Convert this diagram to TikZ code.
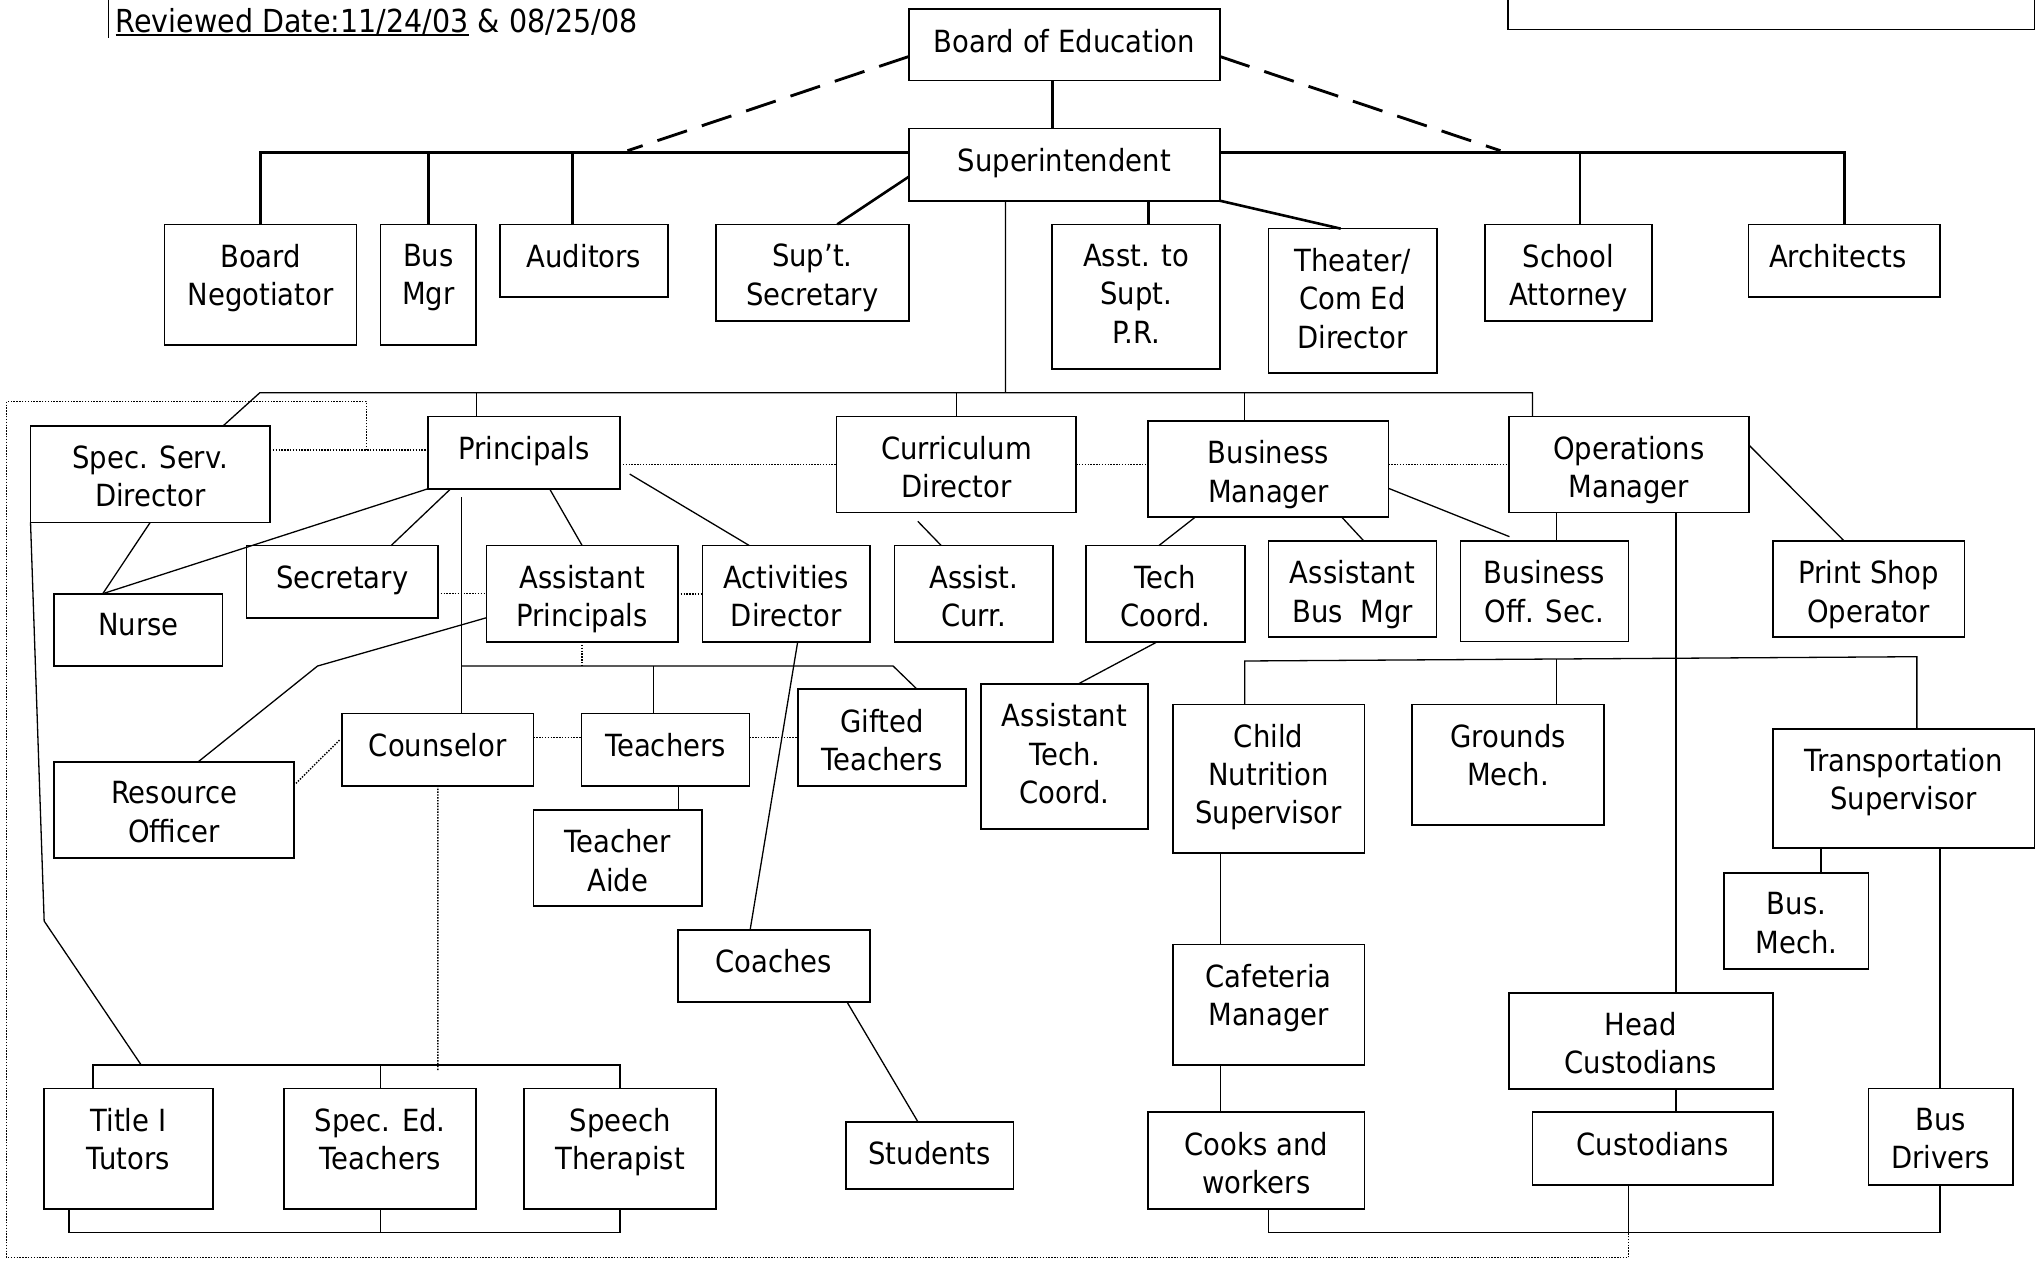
\documentclass[tikz,border=0pt]{standalone}
\usepackage{fontspec}
\setmainfont{DejaVu Sans}[FakeStretch=0.9]
\usetikzlibrary{positioning}

\begin{document}
\begin{tikzpicture}[x=1pt,y=-1pt,
    font=\fontsize{23.5}{29.5}\selectfont,
    box/.style={draw,line width=1.3pt,inner sep=0pt,outer sep=0pt,anchor=north west},
    txt/.style={inner sep=0pt,align=center},
    ln/.style={line width=1pt},
    thk/.style={line width=2pt},
    dashln/.style={line width=2.2pt,dash pattern=on 24pt off 12pt},
    dotln/.style={line width=1.1pt,dash pattern=on 1.1pt off 1.1pt}]
\useasboundingbox (0,0) rectangle (1568,975);
\fill[white] (0,0) rectangle (1568,975);

% heading
\node[txt,anchor=base west,font=\fontsize{24.4}{29.5}\selectfont] (rev) at (89,24.9) {Reviewed Date:11/24/03};
\node[txt,anchor=base west,font=\fontsize{24.4}{29.5}\selectfont] (revb) at ([xshift=7pt]rev.base east) {\& 08/25/08};
\draw[line width=1.5pt] ([yshift=-2pt]rev.base west) -- ([yshift=-2pt]rev.base east);
\coordinate (revbar) at (83.6,0);
\draw[line width=1pt] (revbar) -- ([yshift=-4pt]revbar |- rev.base);
\coordinate (tra) at (1161,-3);
\coordinate (trb) at (1566,22.6);
\draw[line width=1.3pt] (tra) |- (trb) -- (trb |- tra);

% top level
\node[box,minimum width=239.5pt,minimum height=55pt] (board) at (699.5,7) {};
\node[txt,below=15pt of board.north] (board-t) {Board of Education};
\node[box,minimum width=239.5pt,minimum height=55.5pt] (supt) at (699.5,99) {};
\node[txt,below=15pt of supt.north] (supt-t) {Superintendent};

\node[box,minimum width=147.7pt,minimum height=92.9pt] (negot) at (126.7,172.7) {};
\node[txt,below=15pt of negot.north] (negot-t) {Board\\Negotiator};
\node[box,minimum width=73.5pt,minimum height=92.9pt] (busmgr) at (293,172.7) {};
\node[txt,below=15pt of busmgr.north] (busmgr-t) {Bus\\Mgr};
\node[box,minimum width=129pt,minimum height=55.7pt] (audit) at (385,172.7) {};
\node[txt,below=15pt of audit.north] (audit-t) {Auditors};
\node[box,minimum width=148.5pt,minimum height=74.3pt] (suptsec) at (551,172.7) {};
\node[txt,below=15pt of suptsec.north] (suptsec-t) {Sup’t.\\Secretary};
\node[box,minimum width=129pt,minimum height=111.1pt] (asstpr) at (810,172.7) {};
\node[txt,below=15pt of asstpr.north] (asstpr-t) {Asst. to\\Supt.\\P.R.};
\node[box,minimum width=129.4pt,minimum height=111pt] (theater) at (976.5,176) {};
\node[txt,below=15pt of theater.north] (theater-t) {Theater/\\Com Ed\\Director};
\node[box,minimum width=128.8pt,minimum height=74.3pt] (attorney) at (1143,172.7) {};
\node[txt,below=15pt of attorney.north] (attorney-t) {School\\Attorney};
\node[box,minimum width=147.3pt,minimum height=55.7pt] (archit) at (1346,172.7) {};
\node[txt,below=15pt of archit.north,xshift=-5pt] (archit-t) {Architects};

% department heads
\node[box,minimum width=184.3pt,minimum height=74.2pt] (specserv) at (23.5,327.9) {};
\node[txt,below=15pt of specserv.north] (specserv-t) {Spec. Serv.\\Director};
\node[box,minimum width=147.7pt,minimum height=55.5pt] (princ) at (329.5,320.7) {};
\node[txt,below=15pt of princ.north] (princ-t) {Principals};
\node[box,minimum width=184.4pt,minimum height=73.9pt] (curric) at (644,320.7) {};
\node[txt,below=15pt of curric.north] (curric-t) {Curriculum\\Director};
\node[box,minimum width=184.8pt,minimum height=73.7pt] (busman) at (883.9,324) {};
\node[txt,below=15pt of busman.north] (busman-t) {Business\\Manager};
\node[box,minimum width=184.8pt,minimum height=73.9pt] (opsman) at (1161.4,320.7) {};
\node[txt,below=15pt of opsman.north] (opsman-t) {Operations\\Manager};

% fourth row
\node[box,minimum width=129.7pt,minimum height=55.7pt] (nurse) at (41.6,457) {};
\node[txt,below=15pt of nurse.north] (nurse-t) {Nurse};
\node[box,minimum width=147.2pt,minimum height=55.5pt] (secr) at (189.8,420) {};
\node[txt,below=15pt of secr.north] (secr-t) {Secretary};
\node[box,minimum width=147.3pt,minimum height=74.2pt] (asstprinc) at (374.5,420) {};
\node[txt,below=15pt of asstprinc.north] (asstprinc-t) {Assistant\\Principals};
\node[box,minimum width=128.7pt,minimum height=74.2pt] (activ) at (540.8,420) {};
\node[txt,below=15pt of activ.north] (activ-t) {Activities\\Director};
\node[box,minimum width=122pt,minimum height=74.2pt] (asscurr) at (688.5,420) {};
\node[txt,below=15pt of asscurr.north] (asscurr-t) {Assist.\\Curr.};
\node[box,minimum width=122.2pt,minimum height=74.2pt] (techco) at (836,420) {};
\node[txt,below=15pt of techco.north] (techco-t) {Tech\\Coord.};
\node[box,minimum width=129.3pt,minimum height=73.9pt] (assbus) at (976.5,416.4) {};
\node[txt,below=15pt of assbus.north] (assbus-t) {Assistant\\Bus\ \ Mgr};
\node[box,minimum width=129.3pt,minimum height=77.5pt] (bosec) at (1124.2,416.4) {};
\node[txt,below=15pt of bosec.north] (bosec-t) {Business\\Off. Sec.};
\node[box,minimum width=147.7pt,minimum height=73.9pt] (printshop) at (1364.5,416.4) {};
\node[txt,below=15pt of printshop.north] (printshop-t) {Print Shop\\Operator};

% fifth row
\node[box,minimum width=184.7pt,minimum height=73.9pt] (resource) at (41.6,586.3) {};
\node[txt,below=15pt of resource.north] (resource-t) {Resource\\Officer};
\node[box,minimum width=147.2pt,minimum height=55.7pt] (counsel) at (263.4,549.1) {};
\node[txt,below=15pt of counsel.north] (counsel-t) {Counselor};
\node[box,minimum width=129.3pt,minimum height=55.7pt] (teachers) at (447.6,549.1) {};
\node[txt,below=15pt of teachers.north] (teachers-t) {Teachers};
\node[box,minimum width=129.6pt,minimum height=74.2pt] (gifted) at (614,530.6) {};
\node[txt,below=15pt of gifted.north] (gifted-t) {Gifted\\Teachers};
\node[box,minimum width=129.7pt,minimum height=74.1pt] (aide) at (410.6,623.3) {};
\node[txt,below=15pt of aide.north] (aide-t) {Teacher\\Aide};
\node[box,minimum width=128.9pt,minimum height=111.4pt] (asstech) at (755,526.5) {};
\node[txt,below=15pt of asstech.north] (asstech-t) {Assistant\\Tech.\\Coord.};
\node[box,minimum width=147.6pt,minimum height=114.2pt] (childnut) at (902.7,542.2) {};
\node[txt,below=15pt of childnut.north] (childnut-t) {Child\\Nutrition\\Supervisor};
\node[box,minimum width=147.7pt,minimum height=92.6pt] (grounds) at (1087,542.2) {};
\node[txt,below=15pt of grounds.north] (grounds-t) {Grounds\\Mech.};
\node[box,minimum width=201.5pt,minimum height=92.1pt] (transp) at (1364.5,560.9) {};
\node[txt,below=15pt of transp.north] (transp-t) {Transportation\\Supervisor};

% lower boxes
\node[box,minimum width=147.7pt,minimum height=55.4pt] (coaches) at (521.8,715.9) {};
\node[txt,below=15pt of coaches.north] (coaches-t) {Coaches};
\node[box,minimum width=129.2pt,minimum height=51.9pt] (students) at (651,863.4) {};
\node[txt,below=15pt of students.north] (students-t) {Students};
\node[box,minimum width=129.7pt,minimum height=92.9pt] (title) at (34,837.8) {};
\node[txt,below=15pt of title.north] (title-t) {Title I\\Tutors};
\node[box,minimum width=147.7pt,minimum height=92.9pt] (speced) at (218.8,837.8) {};
\node[txt,below=15pt of speced.north] (speced-t) {Spec. Ed.\\Teachers};
\node[box,minimum width=147.7pt,minimum height=92.9pt] (speech) at (403.6,837.8) {};
\node[txt,below=15pt of speech.north] (speech-t) {Speech\\Therapist};
\node[box,minimum width=147.6pt,minimum height=92.6pt] (cafe) at (902.7,727) {};
\node[txt,below=15pt of cafe.north] (cafe-t) {Cafeteria\\Manager};
\node[box,minimum width=166.4pt,minimum height=74.5pt] (cooks) at (883.9,856.2) {};
\node[txt,below=15pt of cooks.north] (cooks-t) {Cooks and\\workers};
\node[box,minimum width=203.1pt,minimum height=74.2pt] (headcust) at (1161.4,764.1) {};
\node[txt,below=15pt of headcust.north] (headcust-t) {Head\\Custodians};
\node[box,minimum width=184.8pt,minimum height=55.8pt] (cust) at (1179.7,856.2) {};
\node[txt,below=15pt of cust.north] (cust-t) {Custodians};
\node[box,minimum width=111pt,minimum height=73.9pt] (busmech) at (1327.3,671.8) {};
\node[txt,below=15pt of busmech.north] (busmech-t) {Bus.\\Mech.};
\node[box,minimum width=111pt,minimum height=74.2pt] (drivers) at (1438.3,837.8) {};
\node[txt,below=15pt of drivers.north] (drivers-t) {Bus\\Drivers};

% connectors: top level
\coordinate (tbl) at (200,117.5);
\coordinate (tbr) at (1420,117.5);
\coordinate (dl) at (483,116);
\coordinate (dr) at (1155,116);
\draw[thk] ([xshift=-9pt]board.south) -- ([xshift=-9pt]supt.north);
\draw[thk] (negot.north) |- (supt.west |- tbl);
\draw[thk] (busmgr.north) -- (busmgr.north |- tbl);
\draw[thk] ([xshift=-9pt]audit.north) -- ([xshift=-9pt]audit.north |- tbl);
\draw[thk] (supt.east |- tbr) -| (archit.north);
\draw[thk] ([xshift=8.8pt]attorney.north) -- ([xshift=8.8pt]attorney.north |- tbr);
\draw[dashln] ([yshift=-9pt]board.west) -- (dl);
\draw[dashln] ([yshift=-9pt]board.east) -- (dr);
\draw[thk] ([yshift=-9.3pt]supt.west) -- ([xshift=19.2pt]suptsec.north);
\draw[thk] ([xshift=9.5pt]asstpr.north) -- ([xshift=9.5pt]asstpr.north |- supt.south);
\draw[thk] (supt.south east) -- ([xshift=-9.2pt]theater.north);

% connectors: departments
\coordinate (mbs) at (774,302.3);
\coordinate (mbl) at (200,302.3);
\coordinate (mbr) at (1179.7,302.3);
\coordinate (mbp) at (367,302.3);
\coordinate (mbb) at (958.2,302.3);
\draw[ln] ([xshift=-45.3pt]supt.south) -- (mbs);
\draw[ln] ([xshift=56pt]specserv.north) -- (mbl) -- (mbr) -- (opsman.north -| mbr);
\draw[ln] (mbp) -- (mbp |- princ.north);
\draw[ln] (curric.north) -- (curric.north |- mbl);
\draw[ln] (mbb) -- (mbb |- busman.north);

% dotted links
\coordinate (bbm) at (1253.5,948.9);
\coordinate (dq) at (282,346.4);
\coordinate (dtl) at (5,309);
\coordinate (dbl) at (5,968);
\draw[dotln] ([yshift=18.6pt]specserv.east) -- ([yshift=18.6pt]specserv.east -| princ.west);
\draw[dotln] (dq) |- (dtl) -- (dbl) -| (bbm);
\draw[dotln] ([yshift=-8.95pt]princ.east) -- ([yshift=-8.95pt]princ.east -| curric.west);
\draw[dotln] (curric.east) -- (curric.east -| busman.west);
\draw[dotln] ([yshift=3.45pt]busman.east) -- ([yshift=3.45pt]busman.east -| opsman.west);
\draw[dotln] ([yshift=-9.25pt]secr.east) -- ([yshift=-9.25pt]secr.east -| asstprinc.west);
\draw[dotln] (asstprinc.east) -- (asstprinc.east -| activ.west);

% connectors: fourth row
\draw[ln] (specserv.south) -- ([xshift=-27.35pt]nurse.north);
\draw[ln] (princ.south west) -- ([xshift=-27.35pt]nurse.north);
\draw[ln] ([xshift=-56.35pt]princ.south) -- ([xshift=37.6pt]secr.north);
\draw[ln] ([xshift=19.65pt]princ.south) -- (asstprinc.north);
\draw[ln] ([xshift=7.5pt,yshift=-16.45pt]princ.east) -- ([xshift=-28.25pt]activ.north);
\draw[ln] ([xshift=-29.7pt,yshift=-6.7pt]curric.south) -- ([xshift=-24.9pt]asscurr.north);
\draw[ln] ([xshift=-55.8pt]busman.south) -- ([xshift=-5.1pt]techco.north);
\draw[ln] ([xshift=56.2pt]busman.south) -- ([xshift=8.65pt]assbus.north);
\draw[ln] ([yshift=-15pt]busman.east) -- ([xshift=-26.95pt,yshift=3.3pt]bosec.north);
\draw[ln] ([xshift=-55.8pt]opsman.south) -- ([xshift=-55.8pt]opsman.south |- bosec.north);
\draw[ln] ([yshift=15.15pt]opsman.east) -- ([xshift=-18.85pt]printshop.north);
\draw[ln] ([xshift=36.4pt]opsman.south) -- ([xshift=36.4pt]opsman.south |- headcust.north);

% connectors: school staff
\coordinate (pst) at (355.5,382.8);
\coordinate (pbl) at (355.5,512.7);
\coordinate (pbr) at (687.5,512.7);
\coordinate (pbt) at (503.2,512.7);
\coordinate (rbend) at (244.4,512.7);
\coordinate (cdot) at (337,823.7);
\draw[ln] (pst) -- (pst |- counsel.north);
\draw[ln] (pbl) -- (pbr) -- ([xshift=27.2pt]gifted.north);
\draw[ln] (pbt) -- (pbt |- teachers.north);
\draw[dotln] (asstprinc.south) -- (asstprinc.south |- pbl);
\draw[ln] ([yshift=-18.4pt]asstprinc.west) -- (rbend) -- ([xshift=18.75pt]resource.north);
\draw[ln] ([xshift=8.85pt]activ.south) -- ([xshift=-18.25pt]coaches.north);
\draw[ln] ([xshift=56.35pt]coaches.south) -- ([xshift=-9.1pt]students.north);
\draw[dotln] ([yshift=9.15pt]counsel.east) -- ([yshift=9.15pt]counsel.east -| teachers.west);
\draw[dotln] ([yshift=9.15pt]teachers.east) -- ([yshift=9.15pt]teachers.east -| gifted.west);
\draw[dotln] ([xshift=1.5pt,yshift=20.25pt]resource.east) -- ([xshift=-2pt,yshift=7.35pt]counsel.west);
\draw[ln] ([xshift=10pt]teachers.south) -- ([xshift=10pt]teachers.south |- aide.north);
\draw[dotln] (counsel.south) -- (cdot);

% connectors: special services
\coordinate (lbtl) at (71.6,819.8);
\coordinate (lbtm) at (293,819.8);
\coordinate (lbtr) at (477.2,819.8);
\coordinate (lbbl) at (53,948.9);
\coordinate (lbbm) at (293,948.9);
\coordinate (lbbr) at (477.2,948.9);
\coordinate (ssb) at (34,709);
\coordinate (sst) at (108.7,819.8);
\draw[ln] (lbtl |- title.north) -- (lbtl) -- (lbtr) -- (lbtr |- speech.north);
\draw[ln] (lbtm) -- (lbtm |- speced.north);
\draw[ln] (lbbl |- title.south) -- (lbbl) -- (lbbr) -- (lbbr |- speech.south);
\draw[ln] (lbbm) -- (lbbm |- speced.south);
\draw[ln] (specserv.south west) -- (ssb) -- (sst);

% connectors: operations
\coordinate (rbl) at (958.2,508.8);
\coordinate (rbr) at (1475.5,505.5);
\coordinate (rbg) at (1198,507.3);
\coordinate (bbl) at (976.5,948.9);
\coordinate (bbr) at (1493.3,948.9);
\draw[ln] ([xshift=-6.6pt]techco.south) -- ([xshift=10.45pt]asstech.north);
\draw[ln] (rbl |- childnut.north) -- (rbl) -- (rbr) -- (rbr |- transp.north);
\draw[ln] (rbg) -- (rbg |- grounds.north);
\draw[ln] ([xshift=-37.2pt]childnut.south) -- ([xshift=-37.2pt]childnut.south |- cafe.north);
\draw[ln] ([xshift=-37.2pt]cafe.south) -- ([xshift=-37.2pt]cafe.south |- cooks.north);
\draw[ln] ([xshift=27.25pt]headcust.south) -- ([xshift=27.25pt]headcust.south |- cust.north);
\draw[ln] ([xshift=-63.55pt]transp.south) -- ([xshift=-63.55pt]transp.south |- busmech.north);
\draw[ln] ([xshift=28.05pt]transp.south) -- ([xshift=28.05pt]transp.south |- drivers.north);
\draw[ln] (bbl |- cooks.south) -- (bbl) -- (bbr) -- (bbr |- drivers.south);
\draw[ln] (bbm |- cust.south) -- (bbm);
\end{tikzpicture}
\end{document}
